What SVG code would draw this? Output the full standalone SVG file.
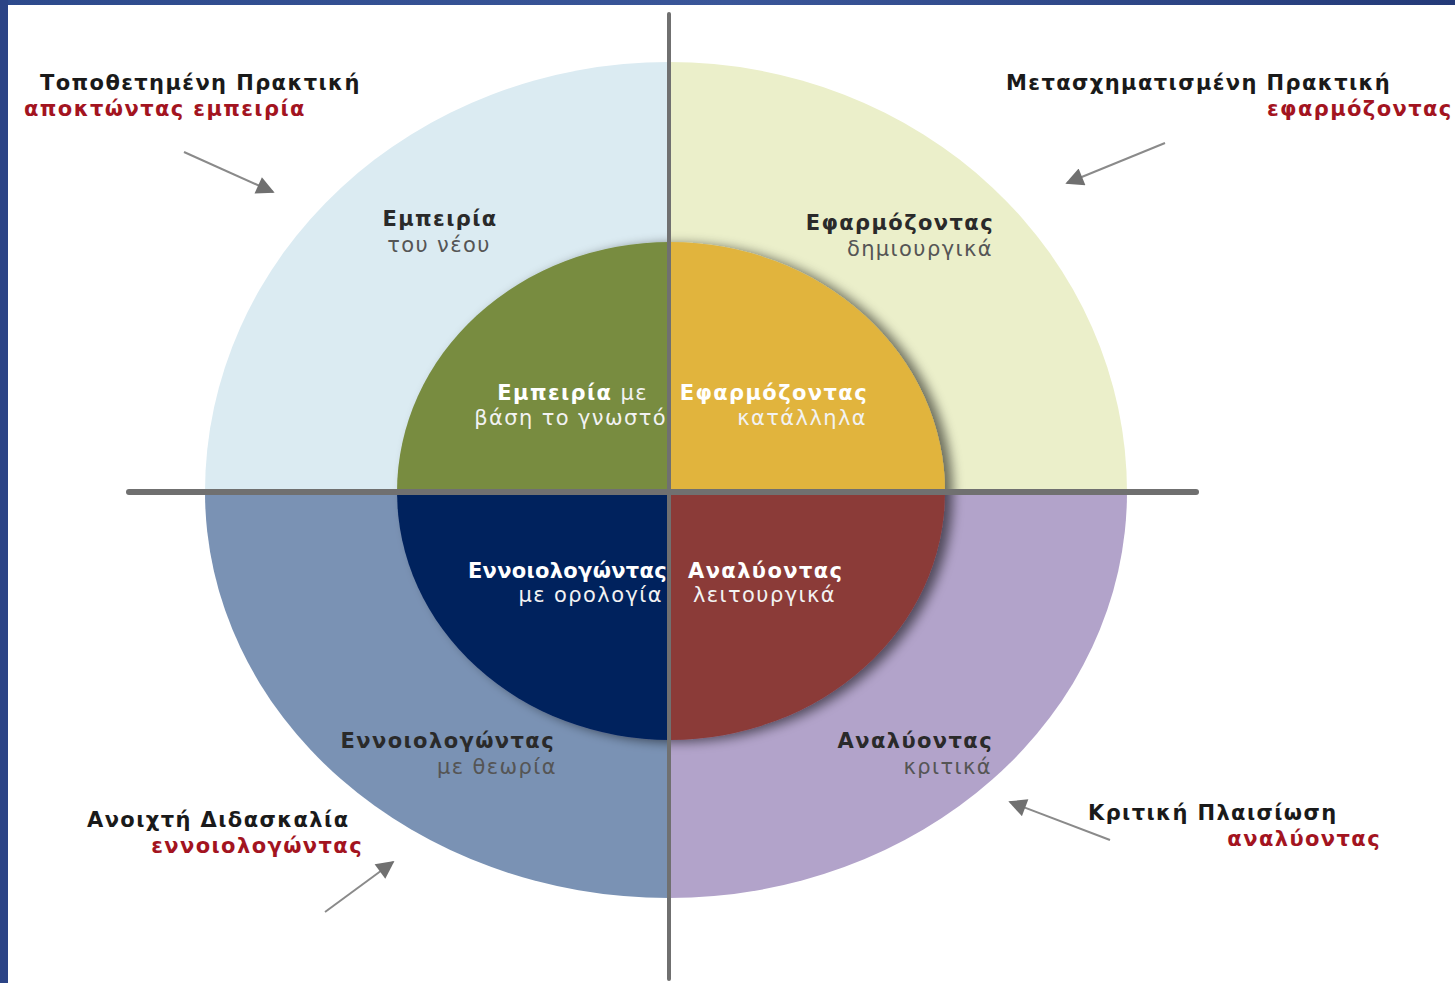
<svg xmlns="http://www.w3.org/2000/svg" width="1455" height="983" viewBox="0 0 1455 983">
<defs>
<linearGradient id="frame" x1="0" y1="0" x2="1" y2="0">
<stop offset="0" stop-color="#2d4a8c"/><stop offset="0.5" stop-color="#3a5699"/><stop offset="1" stop-color="#243a78"/>
</linearGradient>
<filter id="shadow" x="-10%" y="-10%" width="125%" height="125%">
<feGaussianBlur in="SourceAlpha" stdDeviation="6"/>
<feOffset dx="8" dy="2" result="b"/>
<feComponentTransfer><feFuncA type="linear" slope="0.55"/></feComponentTransfer>
<feMerge><feMergeNode/><feMergeNode in="SourceGraphic"/></feMerge>
</filter>
<marker id="head" viewBox="0 0 10 10" refX="9" refY="5" markerWidth="10" markerHeight="9" orient="auto" markerUnits="strokeWidth">
<path d="M0,0 L10,5 L0,10 z" fill="#707070"/>
</marker>
<style>
text{font-family:"DejaVu Sans","Liberation Sans",sans-serif;font-size:21px;letter-spacing:1.4px;}
.h{font-weight:bold;fill:#1a1a1a;}
.r{font-weight:bold;fill:#a3141f;}
.ob{font-weight:bold;fill:#2a2a2a;}
.on{fill:#555;}
.ib{font-weight:bold;fill:#fff;}
.in{fill:#f2f2f2;}
.tight{letter-spacing:0.3px;}
.ax{stroke:#707070;stroke-linecap:round;}
.ar{stroke:#8a8a8a;stroke-width:2;fill:none;marker-end:url(#head);}
</style>
</defs>
<rect width="1455" height="983" fill="#ffffff"/>
<rect x="0" y="0" width="1455" height="5" fill="url(#frame)"/>
<rect x="0" y="0" width="8" height="983" fill="#2b4486"/>

<g id="outer">
<path id="outer-tl" d="M669,492 L205,492 A464,430 0 0 1 669,62 Z" fill="#dbebf2"/>
<path id="outer-tr" d="M669,492 L669,62 A458,430 0 0 1 1127,492 Z" fill="#ebefca"/>
<path id="outer-bl" d="M669,492 L669,898 A464,406 0 0 1 205,492 Z" fill="#7a92b4"/>
<path id="outer-br" d="M669,492 L1127,492 A458,406 0 0 1 669,898 Z" fill="#b2a3ca"/>
</g>

<g id="inner" filter="url(#shadow)">
<path id="inner-tl" d="M670,492 L397,492 A273,250 0 0 1 670,242 Z" fill="#788c41"/>
<path id="inner-tr" d="M670,492 L670,242 A275,250 0 0 1 945,492 Z" fill="#e1b43e"/>
<path id="inner-bl" d="M670,492 L670,740 A273,248 0 0 1 397,492 Z" fill="#03215d"/>
<path id="inner-br" d="M670,492 L945,492 A275,248 0 0 1 670,740 Z" fill="#8b3a39"/>
</g>

<g id="axes">
<line class="ax" x1="669" y1="14" x2="669" y2="979" stroke-width="4"/>
<line class="ax" x1="129" y1="492" x2="1196" y2="492" stroke-width="6"/>
</g>

<g id="connectors">
<line class="ar" x1="184" y1="152" x2="273" y2="192"/>
<line class="ar" x1="1165" y1="143" x2="1067" y2="183"/>
<line class="ar" x1="325" y1="912" x2="393" y2="862"/>
<line class="ar" x1="1110" y1="840" x2="1010" y2="802"/>
</g>

<g id="label-tl">
<text class="h" x="40" y="90">Τοποθετημένη Πρακτική</text>
<text class="r" x="24" y="116">αποκτώντας εμπειρία</text>
</g>
<g id="label-tr">
<text class="h" x="1006" y="90">Μετασχηματισμένη Πρακτική</text>
<text class="r" x="1267" y="116">εφαρμόζοντας</text>
</g>
<g id="label-bl">
<text class="h" x="87" y="827">Ανοιχτή Διδασκαλία</text>
<text class="r" x="363" y="853" text-anchor="end">εννοιολογώντας</text>
</g>
<g id="label-br">
<text class="h" x="1088" y="820">Κριτική Πλαισίωση</text>
<text class="r" x="1381" y="846" text-anchor="end">αναλύοντας</text>
</g>

<g id="outer-tl-text">
<text class="ob" x="440" y="226" text-anchor="middle">Εμπειρία</text>
<text class="on" x="439" y="252" text-anchor="middle">του νέου</text>
</g>
<g id="outer-tr-text">
<text class="ob" x="994" y="230" text-anchor="end">Εφαρμόζοντας</text>
<text class="on" x="993" y="256" text-anchor="end">δημιουργικά</text>
</g>
<g id="outer-bl-text">
<text class="ob" x="555" y="748" text-anchor="end">Εννοιολογώντας</text>
<text class="on" x="557" y="774" text-anchor="end">με θεωρία</text>
</g>
<g id="outer-br-text">
<text class="ob" x="993" y="748" text-anchor="end">Αναλύοντας</text>
<text class="on" x="992" y="774" text-anchor="end">κριτικά</text>
</g>

<g id="inner-tl-text">
<text x="648" y="400" text-anchor="end"><tspan class="ib">Εμπειρία</tspan><tspan class="in"> με</tspan></text>
<text class="in" x="667" y="425" text-anchor="end">βάση το γνωστό</text>
</g>
<g id="inner-tr-text">
<text class="ib" x="868" y="400" text-anchor="end">Εφαρμόζοντας</text>
<text class="in" x="867" y="425" text-anchor="end">κατάλληλα</text>
</g>
<g id="inner-bl-text">
<text class="ib tight" x="667" y="578" text-anchor="end">Εννοιολογώντας</text>
<text class="in" x="663" y="602" text-anchor="end">με ορολογία</text>
</g>
<g id="inner-br-text">
<text class="ib" x="688" y="578">Αναλύοντας</text>
<text class="in" x="836" y="602" text-anchor="end">λειτουργικά</text>
</g>
</svg>
